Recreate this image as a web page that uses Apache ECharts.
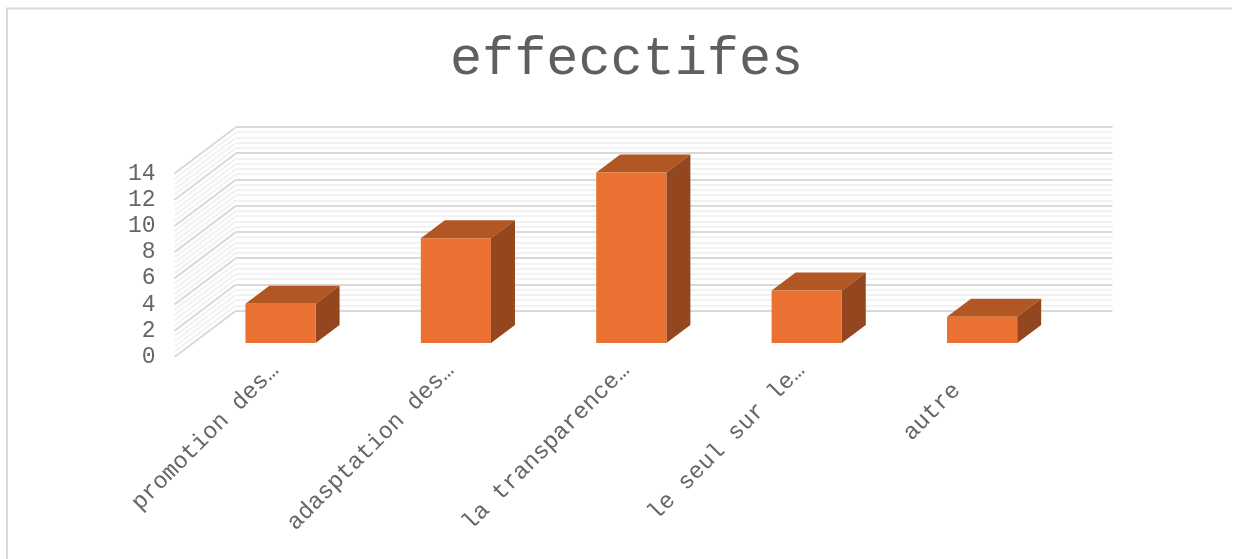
<!DOCTYPE html>
<html>
<head>
<meta charset="utf-8">
<style>html,body{margin:0;padding:0;background:#fff}#c{width:1245px;height:559px}</style>
<script src="https://cdn.jsdelivr.net/npm/echarts@6/dist/echarts.min.js"></script>
</head>
<body>
<div id="c"></div>
<script>
const titleText = 'effecctifes';
const categories = ['promotion des…', 'adasptation des…', 'la transparence…', 'le seul sur le…', 'autre  '];
const values = [3, 8, 13, 4, 2];
const yMin = 0, yMax = 14, yInterval = 2, minorPerMajor = 5;

// oblique projection of the box depth
const wallDx = 61, wallDy = -46;
const barDx = 24, barDy = -18;
const barWidthShare = 0.4;

const font = '"Courier New", "Liberation Mono", monospace';
const textColor = '#666666';
const wallTicks = [];
for (let k = 0; k <= (yMax - yMin) / yInterval * minorPerMajor; k++) {
  wallTicks.push([k * yInterval / minorPerMajor, k % minorPerMajor === 0 ? 1 : 0]);
}

const chart = echarts.init(document.getElementById('c'), null, {renderer: 'canvas'});
chart.setOption({
  animation: false,
  backgroundColor: '#fff',
  title: {
    text: titleText, left: 445, top: 28,
    textStyle: {fontFamily: font, fontSize: 53.5, fontWeight: 'normal', color: '#5f5f5f'}
  },
  graphic: [{
    type: 'polyline', silent: true,
    shape: {points: [[7, 559], [7, 8.5], [1232, 8.5]]},
    style: {stroke: '#d9d9d9', lineWidth: 2, fill: null}
  }],
  grid: [
    {left: 192.8, width: 877, top: 159.5, height: 183.5},   // plane of the bars
    {left: 174.5, width: 877, top: 173.5, height: 183.5},   // front edge of the walls
    {left: 235.5, width: 877, top: 127, height: 183.5},     // back wall
    {left: 187.5, width: 877, top: 159.5, height: 183.5}    // category labels
  ],
  xAxis: [
    {gridIndex: 0, type: 'category', data: categories, show: false},
    {gridIndex: 1, type: 'category', data: categories, show: false},
    {gridIndex: 2, type: 'category', data: categories, show: false},
    {gridIndex: 3, type: 'category', data: categories,
      axisLine: {show: false}, axisTick: {show: false},
      axisLabel: {interval: 0, rotate: 45, margin: 24, color: textColor, fontFamily: font, fontSize: 23.5}}
  ],
  yAxis: [
    {gridIndex: 0, type: 'value', min: yMin, max: yMax, interval: yInterval, show: false},
    {gridIndex: 1, type: 'value', min: yMin, max: yMax, interval: yInterval,
      axisLine: {show: false}, axisTick: {show: false}, splitLine: {show: false},
      axisLabel: {margin: 19, padding: [2, 0, 0, 0], color: textColor, fontFamily: font, fontSize: 23}},
    {gridIndex: 2, type: 'value', min: yMin, max: yMax, interval: yInterval,
      axisLine: {show: false}, axisTick: {show: false}, axisLabel: {show: false},
      splitLine: {show: true, lineStyle: {color: '#d9d9d9', width: 2}},
      minorTick: {show: false, splitNumber: minorPerMajor},
      minorSplitLine: {show: true, lineStyle: {color: '#f2f2f2', width: 2}}},
    {gridIndex: 3, type: 'value', min: yMin, max: yMax, interval: yInterval, show: false}
  ],
  series: [
    {
      type: 'custom', xAxisIndex: 1, yAxisIndex: 1, silent: true, z: 1,
      data: wallTicks,
      clip: false,
      renderItem(params, api) {
        const p = api.coord([0, api.value(0)]);
        const x0 = params.coordSys.x;
        return {
          type: 'line',
          shape: {x1: x0, y1: p[1], x2: x0 + wallDx, y2: p[1] + wallDy},
          style: {stroke: api.value(1) ? '#d9d9d9' : '#f2f2f2', lineWidth: 2}
        };
      }
    },
    {
      type: 'custom', xAxisIndex: 0, yAxisIndex: 0, silent: true, z: 3,
      data: values.map((v, i) => [i, v]),
      encode: {x: 0, y: 1},
      clip: false,
      renderItem(params, api) {
        const i = api.value(0), v = api.value(1);
        const top = api.coord([i, v]);
        const bottom = api.coord([i, 0]);
        const w = api.size([1, 0])[0] * barWidthShare;
        const l = top[0] - w / 2, r = top[0] + w / 2, t = top[1], b = bottom[1];
        return {
          type: 'group',
          children: [
            {type: 'polygon', shape: {points: [[l, t], [l + barDx, t + barDy], [r + barDx, t + barDy], [r, t]]},
              style: {fill: '#b05724'}},
            {type: 'polygon', shape: {points: [[r, t], [r + barDx, t + barDy], [r + barDx, b + barDy], [r, b]]},
              style: {fill: '#94461e'}},
            {type: 'rect', shape: {x: l, y: t, width: w, height: b - t},
              style: {fill: '#ea7131'}}
          ]
        };
      }
    }
  ]
});
</script>
</body>
</html>
